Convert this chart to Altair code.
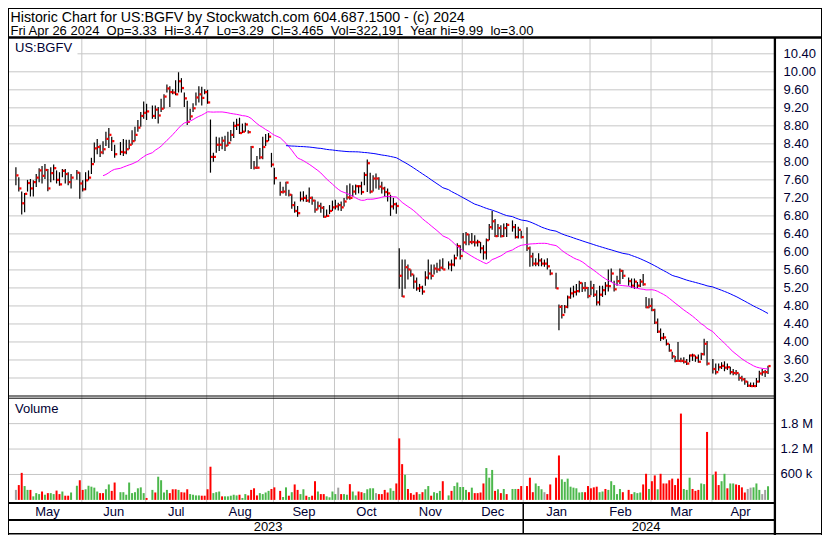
import altair as alt
import pandas as pd

# ---------------- data ----------------
close_may = [7.70, 7.41, 7.08, 7.29, 7.53, 7.41, 7.55, 7.65, 7.81, 7.69, 7.82, 7.41, 7.75, 7.86, 7.60, 7.50, 7.80, 7.73, 7.55, 7.65, 7.76, 7.52]
high_may = [7.88, 7.66, 7.34, 7.31, 7.60, 7.62, 7.59, 7.73, 7.86, 7.91, 7.95, 7.84, 7.88, 7.94, 7.81, 7.77, 7.84, 7.84, 7.77, 7.73, 7.82, 7.77]
low_may = [7.48, 7.34, 6.83, 6.88, 7.34, 7.23, 7.23, 7.44, 7.55, 7.52, 7.62, 7.35, 7.55, 7.59, 7.52, 7.47, 7.66, 7.52, 7.48, 7.41, 7.60, 7.18]
vol_may = [236, 350, 638, 327, 236, 236, 84, 160, 137, 198, 122, 160, 160, 137, 220, 137, 198, 99, 99, 175, 334, 464]
dir_may = "nrrggrgggrgrggrrgrrggr"

close_jun = [7.39, 7.59, 7.65, 7.95, 8.30, 8.33, 8.21, 8.28, 8.51, 8.60, 8.46, 8.17, 8.22, 8.21, 8.28, 8.38, 8.46, 8.60, 8.76, 9.02, 9.09]
high_jun = [7.59, 7.77, 7.81, 8.09, 8.43, 8.51, 8.38, 8.46, 8.67, 8.75, 8.56, 8.38, 8.44, 8.51, 8.49, 8.49, 8.70, 8.78, 8.93, 9.11, 9.34]
low_jun = [7.34, 7.37, 7.59, 7.73, 7.98, 8.17, 8.11, 8.17, 8.35, 8.31, 8.24, 8.09, 8.15, 8.13, 8.17, 8.28, 8.38, 8.46, 8.67, 8.78, 8.96]
vol_jun = [236, 251, 334, 312, 289, 198, 160, 160, 251, 365, 213, 410, 182, 182, 122, 410, 160, 182, 274, 296, 160]
dir_jun = "rgggggrrggrrggggggggg"

close_jul = [9.12, 9.02, 9.16, 9.03, 9.18, 9.45, 9.63, 9.55, 9.54, 9.50, 9.79, 9.64, 9.41, 8.89, 9.01, 9.19, 9.43, 9.50, 9.42, 9.55]
high_jul = [9.29, 9.25, 9.25, 9.22, 9.40, 9.50, 9.72, 9.68, 9.61, 9.81, 9.99, 9.86, 9.54, 9.36, 9.18, 9.30, 9.54, 9.68, 9.67, 9.61]
low_jul = [8.93, 8.96, 8.95, 8.85, 9.11, 9.18, 9.54, 9.22, 9.50, 9.48, 9.54, 9.54, 9.22, 8.82, 8.93, 9.11, 9.25, 9.32, 9.25, 9.50]
vol_jul = [46, 236, 175, 547, 464, 175, 236, 160, 251, 251, 236, 182, 175, 251, 137, 122, 106, 106, 99, 99]
dir_jul = "rgrggggrrrgrrrggggrr"

close_aug = [9.32, 8.11, 8.11, 8.38, 8.38, 8.47, 8.36, 8.42, 8.60, 8.80, 8.82, 8.64, 8.67, 8.83, 8.66, 8.33, 7.87, 7.87, 8.10, 8.33, 8.46, 8.56, 7.94]
high_aug = [9.60, 8.94, 8.20, 8.56, 8.54, 8.56, 8.58, 8.67, 8.71, 8.89, 8.96, 8.98, 8.85, 8.87, 8.70, 8.35, 8.02, 8.13, 8.31, 8.56, 8.62, 8.64, 8.20]
low_aug = [9.29, 7.76, 8.00, 8.20, 8.24, 8.28, 8.24, 8.35, 8.46, 8.53, 8.71, 8.62, 8.64, 8.67, 8.63, 7.84, 7.83, 7.84, 8.06, 8.06, 8.35, 8.46, 7.88]
vol_aug = [251, 783, 160, 182, 198, 84, 84, 84, 99, 122, 106, 122, 46, 137, 106, 236, 274, 106, 160, 137, 175, 213, 258]
dir_aug = "rrgggrgggggrggrrrrggggr"

close_sep = [7.64, 7.33, 7.34, 7.54, 7.27, 7.04, 6.91, 6.86, 7.18, 7.20, 7.14, 7.20, 7.14, 6.94, 7.02, 6.98, 6.78, 6.80, 6.91, 6.99]
high_sep = [7.87, 7.56, 7.45, 7.56, 7.38, 7.28, 7.12, 7.02, 7.34, 7.35, 7.27, 7.43, 7.23, 7.16, 7.12, 7.09, 7.02, 6.94, 7.04, 7.14]
low_sep = [7.50, 7.25, 7.30, 7.25, 7.23, 6.96, 6.87, 6.78, 7.12, 7.12, 7.11, 7.09, 7.05, 6.87, 6.94, 6.87, 6.76, 6.78, 6.84, 6.91]
vol_sep = [296, 213, 68, 296, 99, 182, 365, 236, 137, 251, 99, 68, 99, 441, 198, 137, 137, 84, 61, 198]
dir_sep = "rrggrgrrggrgrrgrrggg"

close_oct = [7.01, 7.04, 6.99, 7.12, 7.21, 7.20, 7.34, 7.46, 7.46, 7.33, 7.71, 7.97, 7.34, 7.63, 7.63, 7.45, 7.41, 7.33, 7.30, 7.01, 7.06, 7.02]
high_oct = [7.16, 7.09, 7.12, 7.20, 7.48, 7.52, 7.48, 7.50, 7.48, 7.56, 7.77, 8.05, 7.76, 7.70, 7.74, 7.66, 7.56, 7.45, 7.41, 7.27, 7.20, 7.10]
low_oct = [6.94, 6.92, 6.91, 7.01, 7.16, 7.16, 7.23, 7.27, 7.30, 7.27, 7.48, 7.33, 7.30, 7.34, 7.41, 7.38, 7.30, 7.23, 7.12, 6.80, 6.94, 6.85]
vol_oct = [137, 289, 137, 137, 122, 372, 198, 106, 198, 182, 160, 251, 274, 274, 160, 137, 137, 236, 175, 274, 213, 388]
dir_oct = "gnrggrggrrggggnrrrrggr"

close_nov = [5.47, 5.01, 5.66, 5.61, 5.50, 5.34, 5.19, 5.21, 5.12, 5.43, 5.52, 5.47, 5.63, 5.61, 5.65, 5.61, 5.72, 5.72, 5.86, 6.13, 5.91]
high_nov = [6.08, 5.83, 5.83, 5.72, 5.61, 5.50, 5.43, 5.29, 5.25, 5.57, 5.83, 5.72, 5.72, 5.76, 5.83, 5.86, 5.79, 5.83, 5.94, 6.19, 6.15]
low_nov = [5.18, 5.00, 5.18, 5.39, 5.45, 5.18, 5.14, 5.11, 5.05, 5.25, 5.39, 5.39, 5.50, 5.54, 5.57, 5.61, 5.61, 5.57, 5.68, 5.90, 5.83]
vol_nov = [1452, 844, 593, 258, 160, 122, 182, 137, 182, 251, 327, 99, 182, 160, 213, 441, 106, 213, 327, 410, 304]
dir_nov = "rrgrrrrgrggrgggrgrggg"

close_dec = [6.21, 6.39, 6.22, 6.22, 6.21, 6.22, 6.08, 5.99, 6.26, 6.55, 6.68, 6.35, 6.53, 6.35, 6.53, 6.60, 6.55, 6.33, 6.49, 6.33]
high_dec = [6.42, 6.44, 6.40, 6.42, 6.37, 6.27, 6.22, 6.15, 6.30, 6.62, 6.91, 6.73, 6.62, 6.59, 6.63, 6.64, 6.70, 6.62, 6.56, 6.47]
low_dec = [6.01, 6.15, 6.15, 6.17, 6.12, 6.12, 5.97, 5.83, 5.83, 6.26, 6.49, 6.33, 6.33, 6.32, 6.33, 6.33, 6.45, 6.30, 6.30, 6.30]
vol_dec = [304, 236, 182, 289, 160, 160, 175, 388, 752, 524, 707, 213, 251, 160, 258, 137, 258, 258, 258, 327]
dir_dec = "ggrgrrrrgggrgrgrggrr"

close_jan = [6.08, 5.90, 5.74, 5.74, 5.81, 5.74, 5.74, 5.68, 5.52, 5.19, 4.78, 4.60, 4.78, 4.99, 5.08, 5.11, 5.13, 5.31, 5.20, 5.20, 5.02]
high_jan = [6.55, 6.12, 5.98, 5.86, 5.97, 5.86, 5.83, 5.86, 5.61, 5.54, 4.83, 4.82, 4.82, 5.03, 5.21, 5.25, 5.29, 5.36, 5.32, 5.33, 5.22]
low_jan = [6.02, 5.67, 5.68, 5.68, 5.68, 5.68, 5.67, 5.61, 5.48, 5.18, 4.26, 4.52, 4.64, 4.75, 4.96, 4.99, 5.03, 5.10, 5.11, 5.12, 4.97]
vol_jan = [327, 524, 182, 388, 327, 251, 182, 137, 365, 524, 1049, 486, 426, 502, 312, 289, 274, 175, 182, 182, 327]
dir_jan = "rrrgggnrrrrggggggggrr"

close_feb = [5.20, 5.05, 4.88, 5.05, 5.15, 5.25, 5.24, 5.52, 5.17, 5.35, 5.58, 5.47, 5.35, 5.25, 5.34, 5.25, 5.34, 5.28, 4.77, 4.80]
high_feb = [5.36, 5.29, 5.15, 5.25, 5.25, 5.33, 5.61, 5.63, 5.36, 5.47, 5.63, 5.60, 5.43, 5.41, 5.41, 5.33, 5.40, 5.51, 5.00, 4.97]
low_feb = [5.04, 5.00, 4.81, 4.81, 5.00, 5.04, 5.12, 5.33, 5.12, 5.25, 5.29, 5.40, 5.25, 5.20, 5.18, 5.20, 5.22, 5.25, 4.75, 4.75]
vol_feb = [274, 296, 312, 182, 198, 258, 236, 441, 350, 137, 258, 182, 236, 137, 182, 160, 175, 365, 616, 258]
dir_feb = "rrrggrgggggrrrgggrrg"

close_mar = [4.71, 4.43, 4.23, 4.09, 4.10, 3.96, 3.81, 3.68, 3.58, 3.58, 3.58, 3.56, 3.52, 3.70, 3.70, 3.65, 3.56, 3.73, 3.96, 3.52]
high_mar = [4.97, 4.74, 4.52, 4.30, 4.20, 4.06, 3.96, 3.78, 3.69, 4.00, 3.65, 3.66, 3.62, 3.72, 3.74, 3.70, 3.72, 3.76, 4.07, 4.02]
low_mar = [4.68, 4.40, 4.20, 4.02, 4.05, 3.92, 3.78, 3.62, 3.55, 3.56, 3.55, 3.52, 3.49, 3.55, 3.58, 3.56, 3.54, 3.60, 3.70, 3.48]
vol_mar = [441, 578, 251, 616, 388, 388, 464, 502, 350, 502, 2037, 258, 236, 524, 258, 213, 236, 388, 372, 1604]
dir_mar = "rrgrrrrrrrrgggrrrggr"

close_apr = [3.40, 3.33, 3.44, 3.47, 3.43, 3.44, 3.33, 3.31, 3.31, 3.20, 3.17, 3.12, 3.03, 3.02, 3.02, 3.12, 3.30, 3.33, 3.33, 3.465]
high_apr = [3.62, 3.52, 3.52, 3.55, 3.57, 3.52, 3.45, 3.40, 3.38, 3.30, 3.25, 3.20, 3.13, 3.10, 3.10, 3.20, 3.36, 3.40, 3.38, 3.47]
low_apr = [3.30, 3.28, 3.36, 3.40, 3.35, 3.38, 3.28, 3.26, 3.26, 3.14, 3.12, 3.05, 3.00, 3.00, 3.00, 3.00, 3.10, 3.25, 3.22, 3.29]
vol_apr = [593, 669, 350, 441, 616, 274, 388, 388, 365, 350, 296, 175, 258, 289, 296, 388, 236, 137, 236, 322.191]
dir_apr = "grrggrggrrrrnngggnng"

holidays = ["2023-05-29", "2023-06-19", "2023-07-04", "2023-09-04", "2023-11-23",
            "2023-12-25", "2024-01-01", "2024-01-15", "2024-02-19", "2024-03-29"]
month_names = ["May", "Jun", "Jul", "Aug", "Sep", "Oct", "Nov", "Dec", "Jan", "Feb", "Mar", "Apr"]
year_names = ["2023", "2024"]
price_ticks = [3.20, 3.60, 4.00, 4.40, 4.80, 5.20, 5.60, 6.00, 6.40, 6.80, 7.20, 7.60,
               8.00, 8.40, 8.80, 9.20, 9.60, 10.00, 10.40]
vol_ticks = [600000, 1200000, 1800000]
vol_tick_labels = ["600 k", "1.2 M", "1.8 M"]
title_1 = "Historic Chart for US:BGFV by Stockwatch.com 604.687.1500 - (c) 2024"
title_2 = ("Fri Apr 26 2024\u00a0 Op=3.33\u00a0 Hi=3.47\u00a0 Lo=3.29\u00a0 "
           "Cl=3.465\u00a0 Vol=322,191\u00a0 Year hi=9.99\u00a0 lo=3.00")

# ---------------- assemble ----------------
closes = close_may + close_jun + close_jul + close_aug + close_sep + close_oct + close_nov + close_dec + close_jan + close_feb + close_mar + close_apr
highs = high_may + high_jun + high_jul + high_aug + high_sep + high_oct + high_nov + high_dec + high_jan + high_feb + high_mar + high_apr
lows = low_may + low_jun + low_jul + low_aug + low_sep + low_oct + low_nov + low_dec + low_jan + low_feb + low_mar + low_apr
vols = vol_may + vol_jun + vol_jul + vol_aug + vol_sep + vol_oct + vol_nov + vol_dec + vol_jan + vol_feb + vol_mar + vol_apr
dirs = dir_may + dir_jun + dir_jul + dir_aug + dir_sep + dir_oct + dir_nov + dir_dec + dir_jan + dir_feb + dir_mar + dir_apr

weekdays = pd.bdate_range("2023-05-01", "2024-04-26")
hol = set(pd.to_datetime(holidays))
trade_days = [d for d in weekdays if d not in hol]
pos = {d: i for i, d in enumerate(weekdays)}
n = min(len(trade_days), len(closes))

df = pd.DataFrame({
    "idx": [pos[d] for d in trade_days[:n]],
    "close": closes[:n], "high": highs[:n], "low": lows[:n],
    "vol": [v * 1000 for v in vols[:n]], "dir": list(dirs[:n]),
})
df["ma30"] = df["close"].rolling(30).mean()
df["ma90"] = df["close"].rolling(90).mean()
ma30 = df[["idx", "ma30"]].dropna()
ma90 = df[["idx", "ma90"]].dropna()

last_idx = len(weekdays) - 1
x_end = last_idx + 0.333
mstart = []
for per in pd.period_range("2023-05", "2024-04", freq="M"):
    mstart.append(next(i for i, d in enumerate(weekdays) if d.to_period("M") == per))
bounds = [-1.0] + [m - 0.3 for m in mstart[1:]] + [x_end]
months_df = pd.DataFrame({"name": month_names, "mid": [(bounds[k] + bounds[k + 1]) / 2 for k in range(12)]})
grid_df = pd.DataFrame({"b": bounds[1:-1]})
ybounds = [-1.0, bounds[8], x_end]
years_df = pd.DataFrame({"name": year_names, "mid": [(ybounds[0] + ybounds[1]) / 2, (ybounds[1] + ybounds[2]) / 2]})
ysep_df = pd.DataFrame({"b": [bounds[8]]})
pt_df = pd.DataFrame({"v": price_ticks, "lab": [f"{v:.2f}" for v in price_ticks]})
vt_df = pd.DataFrame({"v": vol_ticks, "lab": vol_tick_labels})

# ---------------- layout (pixels) ----------------
W, H = 814, 527
PLOT_R = 766.0
xs = alt.Scale(domain=[-1, x_end], range=[0, PLOT_R])
PY = alt.Scale(domain=[2.8, 10.4], range=[388.0, 45.8])
VY = alt.Scale(domain=[0, 2400000], range=[491.9, 390.2])
FONT = "Liberation Sans"
LABEL_C = "#000033"
GRID_C = "#c6c6c6"
one = pd.DataFrame({"a": [0]})


def hline(y, x1=0, x2=W, w=1.0):
    return alt.Chart(one).mark_rule(color="black", strokeWidth=w).encode(
        x=alt.value(x1), x2=alt.value(x2), y=alt.value(y))


def vline(x, y1, y2, w=1.0):
    return alt.Chart(one).mark_rule(color="black", strokeWidth=w).encode(
        x=alt.value(x), y=alt.value(y1), y2=alt.value(y2))


layers = []
# gridlines
layers.append(alt.Chart(pt_df).mark_rule(color=GRID_C, strokeWidth=1).encode(
    y=alt.Y("v:Q", scale=PY, axis=None), x=alt.value(0), x2=alt.value(PLOT_R)))
layers.append(alt.Chart(vt_df).mark_rule(color=GRID_C, strokeWidth=1).encode(
    y=alt.Y("v:Q", scale=VY, axis=None), x=alt.value(0), x2=alt.value(PLOT_R)))
layers.append(alt.Chart(grid_df).mark_rule(color=GRID_C, strokeWidth=1).encode(
    x=alt.X("b:Q", scale=xs, axis=None), y=alt.value(30.5), y2=alt.value(494)))
# symbol label box
layers.append(alt.Chart(one).mark_rect(color="white").encode(
    x=alt.value(1), x2=alt.value(69.5), y=alt.value(30.8), y2=alt.value(47.2)))
layers.append(alt.Chart(one).mark_text(text="US:BGFV", align="left", baseline="middle",
                                       font=FONT, fontSize=13, color=LABEL_C).encode(
    x=alt.value(7), y=alt.value(40)))
layers.append(alt.Chart(one).mark_text(text="Volume", align="left", baseline="middle",
                                       font=FONT, fontSize=13, color=LABEL_C).encode(
    x=alt.value(7), y=alt.value(401)))
# volume bars
layers.append(alt.Chart(df).mark_bar(size=2).encode(
    x=alt.X("idx:Q", scale=xs, axis=None),
    y=alt.Y("vol:Q", scale=VY, axis=None),
    color=alt.Color("dir:N", scale=alt.Scale(domain=["g", "r", "n"],
                                             range=["#4cb84c", "#ff0000", "#a0a0a0"]), legend=None)))
# price bars
layers.append(alt.Chart(df).mark_rule(color="black", strokeWidth=1.2).encode(
    x=alt.X("idx:Q", scale=xs, axis=None),
    y=alt.Y("low:Q", scale=PY, axis=None), y2="high:Q"))
layers.append(alt.Chart(df).mark_square(size=5, color="#ff0000", opacity=1, xOffset=1.5).encode(
    x=alt.X("idx:Q", scale=xs, axis=None),
    y=alt.Y("close:Q", scale=PY, axis=None)))
# moving averages
layers.append(alt.Chart(ma30).mark_line(color="#ff00ff", strokeWidth=1).encode(
    x=alt.X("idx:Q", scale=xs, axis=None), y=alt.Y("ma30:Q", scale=PY, axis=None)))
layers.append(alt.Chart(ma90).mark_line(color="#0000ff", strokeWidth=1).encode(
    x=alt.X("idx:Q", scale=xs, axis=None), y=alt.Y("ma90:Q", scale=PY, axis=None)))
# axis labels
layers.append(alt.Chart(pt_df).mark_text(align="left", baseline="middle", font=FONT,
                                         fontSize=13, color=LABEL_C).encode(
    y=alt.Y("v:Q", scale=PY, axis=None), x=alt.value(775.5), text="lab:N"))
layers.append(alt.Chart(vt_df).mark_text(align="left", baseline="middle", font=FONT,
                                         fontSize=13, color=LABEL_C).encode(
    y=alt.Y("v:Q", scale=VY, axis=None), x=alt.value(772.5), text="lab:N"))
layers.append(alt.Chart(months_df).mark_text(align="center", baseline="middle", font=FONT,
                                             fontSize=13, color=LABEL_C).encode(
    x=alt.X("mid:Q", scale=xs, axis=None), y=alt.value(503.5), text="name:N"))
layers.append(alt.Chart(years_df).mark_text(align="center", baseline="middle", font=FONT,
                                            fontSize=13, color="black").encode(
    x=alt.X("mid:Q", scale=xs, axis=None), y=alt.value(519), text="name:N"))
# header
layers.append(alt.Chart(one).mark_text(text=title_1, align="left", baseline="alphabetic",
                                       font=FONT, fontSize=14.2, color="black").encode(
    x=alt.value(2.5), y=alt.value(13.6)))
layers.append(alt.Chart(one).mark_text(text=title_2, align="left", baseline="alphabetic",
                                       font=FONT, fontSize=13, color="black").encode(
    x=alt.value(2.5), y=alt.value(27.2)))
# frame lines
layers += [
    hline(0.5), hline(29.6, w=2.5), hline(388.0, 0, PLOT_R), hline(390.2, 0, PLOT_R),
    hline(494.9, 0, PLOT_R, 2), hline(511.9, 0, PLOT_R, 2), hline(525.8, w=1.5),
    vline(0.5, 0, H), vline(W - 0.5, 0, H), vline(PLOT_R + 0.9, 29, H, 2.3),
]
layers.append(alt.Chart(ysep_df).mark_rule(color="black", strokeWidth=1.5).encode(
    x=alt.X("b:Q", scale=xs, axis=None), y=alt.value(494), y2=alt.value(526)))

chart = alt.layer(*layers).resolve_scale(y="independent", color="independent").properties(
    width=W, height=H, padding=0, autosize=alt.AutoSizeParams(type="none")
).configure_view(stroke=None)

chart.save("out.html", embed_options={"renderer": "svg", "actions": False})
